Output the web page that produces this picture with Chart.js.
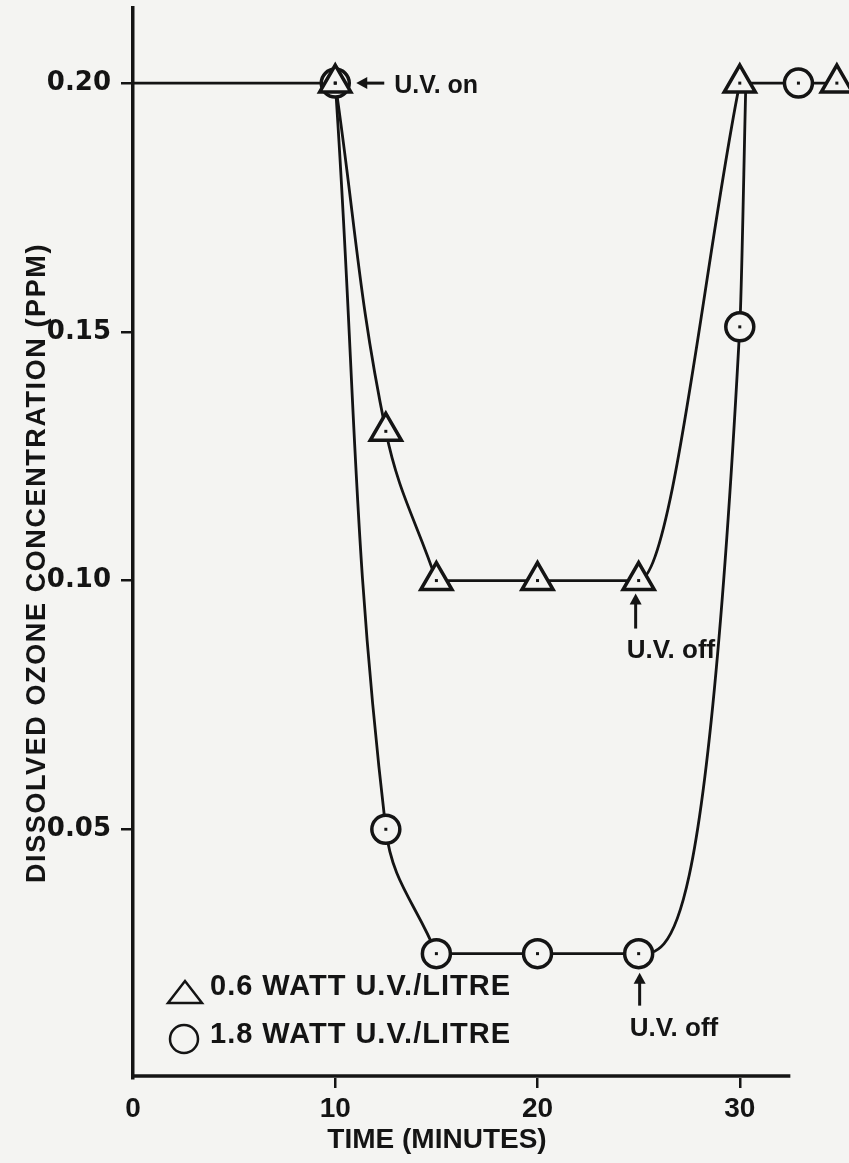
<!DOCTYPE html>
<html>
<head>
<meta charset="utf-8">
<script src="https://cdn.jsdelivr.net/npm/chart.js@4.4.1/dist/chart.umd.min.js"></script>
<style>
  html, body { margin: 0; padding: 0; background: #f4f4f2; }
</style>
</head>
<body>
<canvas id="ozoneChart" width="849" height="1163"></canvas>
<script>
// 0.6 watt U.V./litre (triangles)
const triTime = [10, 12.5, 15, 20, 25, 30, 34.8];
const triConc = [0.20, 0.13, 0.10, 0.10, 0.10, 0.20, 0.20];
// 1.8 watt U.V./litre (circles)
const cirTime = [10, 12.5, 15, 20, 25, 30, 32.9];
const cirConc = [0.20, 0.05, 0.025, 0.025, 0.025, 0.151, 0.20];

// hand drawn curves through the points
const baseTime = [0, 10];
const baseConc = [0.20, 0.20];
const triDropTime = [10, 12.5, 15];
const triDropConc = [0.20, 0.13, 0.10];
const triRiseTime = [15, 20, 25, 30];
const triRiseConc = [0.10, 0.10, 0.10, 0.20];
const cirDropTime = [10, 12.5, 15];
const cirDropConc = [0.20, 0.05, 0.025];
const cirRiseTime = [15, 20, 25, 30, 30.3];
const cirRiseConc = [0.025, 0.025, 0.025, 0.151, 0.20];
const topTime = [30, 32.9, 34.8];
const topConc = [0.20, 0.20, 0.20];

const xTicks = [0, 10, 20, 30];
const xAxisEnd = 32.5;
const yTicks = [0.05, 0.10, 0.15, 0.20];
const legendLabels = ['0.6 WATT U.V./LITRE', '1.8 WATT U.V./LITRE'];

const INK = '#141414';
const PAPER = '#f4f4f2';
const FONT = '"Liberation Sans", Arial, sans-serif';

const pts = (xs, ys) => xs.map((x, i) => ({ x: x, y: ys[i] }));

// paper colour, centre dots, x axis line, titles, legend and notes
const paperPlugin = {
  id: 'paper',
  beforeDraw(chart) {
    const ctx = chart.ctx;
    ctx.save();
    ctx.fillStyle = PAPER;
    ctx.fillRect(0, 0, chart.width, chart.height);
    ctx.restore();
  },
  afterDatasetsDraw(chart) {
    const ctx = chart.ctx;
    ctx.save();
    ctx.fillStyle = INK;
    chart.data.datasets.forEach((ds, i) => {
      if (!ds.dot) return;
      chart.getDatasetMeta(i).data.forEach(el => {
        ctx.fillRect(el.x - 1.5, el.y - 1.5, 3, 3);
      });
    });
    ctx.restore();
  },
  afterDraw(chart) {
    const ctx = chart.ctx;
    const xs = chart.scales.x, ys = chart.scales.y;
    ctx.save();
    ctx.fillStyle = INK;
    ctx.strokeStyle = INK;

    // x axis line stops short of the last markers
    ctx.lineWidth = 3.5;
    ctx.beginPath();
    ctx.moveTo(xs.left - 1.5, ys.bottom - 2);
    ctx.lineTo(xs.getPixelForValue(xAxisEnd), ys.bottom - 2);
    ctx.stroke();

    // y title
    ctx.save();
    ctx.translate(45, 563);
    ctx.rotate(-Math.PI / 2);
    ctx.font = 'bold 27px ' + FONT;
    ctx.letterSpacing = '1.6px';
    ctx.textAlign = 'center';
    ctx.textBaseline = 'alphabetic';
    ctx.fillText('DISSOLVED OZONE CONCENTRATION (PPM)', 0, 0);
    ctx.restore();

    // x title
    ctx.font = 'bold 28px ' + FONT;
    ctx.textAlign = 'center';
    ctx.textBaseline = 'alphabetic';
    ctx.fillText('TIME (MINUTES)', 437, 1148);

    // legend
    ctx.lineWidth = 2.5;
    ctx.beginPath();
    ctx.moveTo(168, 1003);
    ctx.lineTo(202, 1003);
    ctx.lineTo(185, 981);
    ctx.closePath();
    ctx.stroke();
    ctx.beginPath();
    ctx.arc(184, 1039, 14, 0, Math.PI * 2);
    ctx.stroke();
    ctx.font = 'bold 29px ' + FONT;
    ctx.letterSpacing = '1px';
    ctx.textAlign = 'left';
    ctx.fillText(legendLabels[0], 210, 995);
    ctx.fillText(legendLabels[1], 210, 1043);
    ctx.letterSpacing = '0px';

    // U.V. on
    const onX = xs.getPixelForValue(10), onY = ys.getPixelForValue(0.20);
    arrow(ctx, onX + 49, onY, onX + 21, onY);
    ctx.font = 'bold 25px ' + FONT;
    ctx.fillText('U.V. on', onX + 59, onY + 10);

    // U.V. off (both series)
    const offX = xs.getPixelForValue(25);
    const triY = ys.getPixelForValue(0.10), cirY = ys.getPixelForValue(0.025);
    arrow(ctx, offX - 3, triY + 48, offX - 3, triY + 13);
    ctx.font = 'bold 26px ' + FONT;
    ctx.fillText('U.V. off', offX - 12, triY + 77);
    arrow(ctx, offX + 1, cirY + 52, offX + 1, cirY + 19);
    ctx.fillText('U.V. off', offX - 9, cirY + 82);
    ctx.restore();
  }
};

function arrow(ctx, x1, y1, x2, y2) {
  const a = Math.atan2(y2 - y1, x2 - x1);
  ctx.lineWidth = 3;
  ctx.beginPath();
  ctx.moveTo(x1, y1);
  ctx.lineTo(x2 - Math.cos(a) * 6, y2 - Math.sin(a) * 6);
  ctx.stroke();
  ctx.beginPath();
  ctx.moveTo(x2, y2);
  ctx.lineTo(x2 - Math.cos(a) * 11 - Math.sin(a) * 6, y2 - Math.sin(a) * 11 + Math.cos(a) * 6);
  ctx.lineTo(x2 - Math.cos(a) * 11 + Math.sin(a) * 6, y2 - Math.sin(a) * 11 - Math.cos(a) * 6);
  ctx.closePath();
  ctx.fill();
}

const curve = {
  pointRadius: 0,
  borderColor: INK,
  borderWidth: 2.8,
  fill: false,
  clip: false
};
const marker = {
  showLine: false,
  pointBorderWidth: 3.5,
  pointBorderColor: INK,
  pointBackgroundColor: PAPER,
  clip: false,
  dot: true
};

new Chart(document.getElementById('ozoneChart'), {
  type: 'line',
  data: {
    datasets: [
      Object.assign({ label: legendLabels[0], data: pts(triTime, triConc), pointStyle: 'triangle', pointRadius: 18 }, marker),
      Object.assign({ label: legendLabels[1], data: pts(cirTime, cirConc), pointStyle: 'circle', pointRadius: 14 }, marker),
      Object.assign({ label: 'before U.V.', data: pts(baseTime, baseConc) }, curve),
      Object.assign({ label: '0.6 drop', data: pts(triDropTime, triDropConc), tension: 0.4 }, curve),
      Object.assign({ label: '0.6 rise', data: pts(triRiseTime, triRiseConc), cubicInterpolationMode: 'monotone' }, curve),
      Object.assign({ label: '1.8 drop', data: pts(cirDropTime, cirDropConc), tension: 0.4 }, curve),
      Object.assign({ label: '1.8 rise', data: pts(cirRiseTime, cirRiseConc), cubicInterpolationMode: 'monotone' }, curve),
      Object.assign({ label: 'after U.V.', data: pts(topTime, topConc) }, curve)
    ]
  },
  options: {
    responsive: false,
    devicePixelRatio: 1,
    animation: false,
    events: [],
    layout: { autoPadding: false, padding: { top: 8, right: 0, left: 0, bottom: 0 } },
    plugins: {
      legend: { display: false },
      tooltip: { enabled: false }
    },
    scales: {
      x: {
        type: 'linear',
        min: 0,
        max: 35.4,
        afterBuildTicks: s => { s.ticks = xTicks.map(v => ({ value: v })); },
        afterFit: s => { s.height = 85; s.paddingLeft = 0; s.paddingRight = 0; },
        border: { display: false },
        grid: {
          drawOnChartArea: false,
          tickLength: 10,
          lineWidth: 2.5,
          color: c => (c.tick && c.tick.value === 0 ? 'rgba(0,0,0,0)' : INK)
        },
        ticks: {
          color: INK,
          padding: 4,
          maxRotation: 0,
          autoSkip: false,
          font: { family: FONT, weight: 'bold', size: 28 }
        }
      },
      y: {
        min: 0,
        max: 0.2151,
        afterBuildTicks: s => { s.ticks = yTicks.map(v => ({ value: v })); },
        afterFit: s => { s.width = 133; s.paddingTop = 0; s.paddingBottom = 0; },
        border: { display: true, color: INK, width: 3.5 },
        grid: { drawOnChartArea: false, tickLength: 12, lineWidth: 2.5, color: INK },
        ticks: {
          color: INK,
          padding: 10,
          callback: v => v.toFixed(2),
          font: { family: '"DejaVu Sans", sans-serif', weight: 'bold', size: 26 }
        }
      }
    }
  },
  plugins: [paperPlugin]
});
</script>
</body>
</html>
